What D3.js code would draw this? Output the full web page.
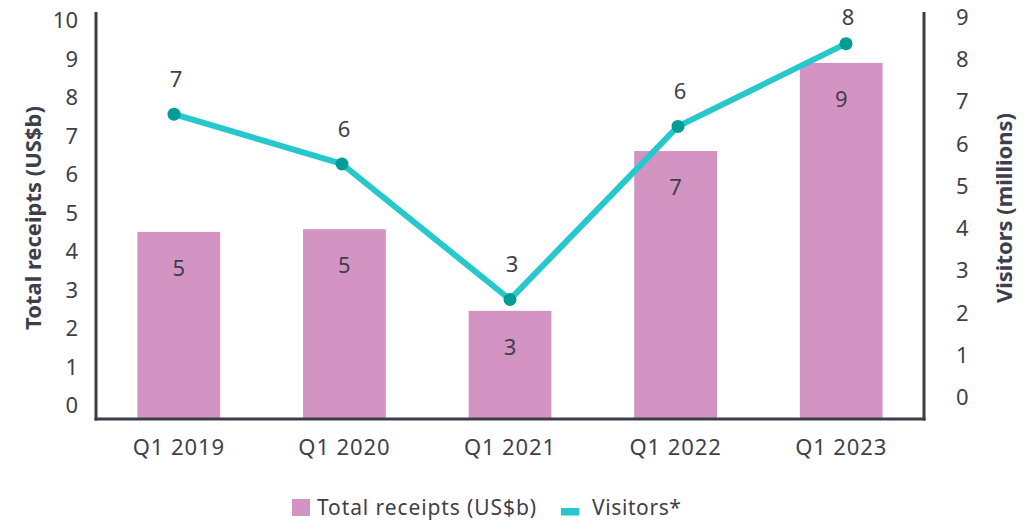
<!DOCTYPE html>
<html><head><meta charset="utf-8">
<script src="https://cdn.jsdelivr.net/npm/d3@7"></script>
<style>
body{margin:0;background:#fff;}
text{font-family:"Noto Sans",sans-serif;fill:#3f3f4b;}
</style>
</head><body>
<svg id="c" width="1026" height="522"></svg>
<script>
// ---- data ----
const categories = ["Q1 2019", "Q1 2020", "Q1 2021", "Q1 2022", "Q1 2023"];
const receipts = [4.86, 4.93, 2.81, 6.96, 9.25];          // US$b (left axis)
const visitors = [7.22, 6.04, 2.83, 6.93, 8.89];          // millions (right axis, as plotted)
const visitorLabels = ["7", "6", "3", "6", "8"];          // data labels as printed
const leftTicks = [0, 1, 2, 3, 4, 5, 6, 7, 8, 9, 10];
const rightTicks = [0, 1, 2, 3, 4, 5, 6, 7, 8, 9];
const seriesNames = ["Total receipts (US$b)", "Visitors*"];
const axisTitles = ["Total receipts (US$b)", "Visitors (millions)"];

// ---- layout ----
const W = 1026, H = 522;
const plot = {left: 96, right: 924, top: 12, bottom: 419};
const BAR = "#d394c4", LINE = "#26c8cb", DOT = "#009c97", AXIS = "#3d3d48";

const svg = d3.select("#c");
svg.append("rect").attr("width", W).attr("height", H).attr("fill", "#fff");

const x = d3.scaleBand().domain(categories).range([plot.left, plot.right])
  .paddingInner(0.5).paddingOuter(0.25);
const xLine = d3.scalePoint().domain(categories).range([plot.left + 78, plot.right - 78]);
const yL = d3.scaleLinear().domain([0, 10]).range([plot.bottom, 34]);
const yR = d3.scaleLinear().domain([0, 9]).range([plot.bottom, 39]);

// bars
svg.append("g").selectAll("rect").data(categories).join("rect")
  .attr("x", d => x(d)).attr("width", x.bandwidth())
  .attr("y", (d, i) => yL(receipts[i]))
  .attr("height", (d, i) => yL(0) - yL(receipts[i]))
  .attr("fill", BAR);

// bar labels
svg.append("g").selectAll("text").data(categories).join("text")
  .attr("x", d => x(d) + x.bandwidth() / 2)
  .attr("y", (d, i) => yL(receipts[i]) + 36)
  .attr("dy", "0.35em").attr("text-anchor", "middle")
  .attr("font-size", 22)
  .text((d, i) => d3.format(".0f")(receipts[i]));

// line
const line = d3.line().x((d, i) => xLine(categories[i])).y(d => yR(d));
svg.append("path").datum(visitors).attr("d", line)
  .attr("fill", "none").attr("stroke", LINE).attr("stroke-width", 6)
  .attr("stroke-linejoin", "round");
svg.append("g").selectAll("circle").data(visitors).join("circle")
  .attr("cx", (d, i) => xLine(categories[i])).attr("cy", d => yR(d))
  .attr("r", 6.5).attr("fill", DOT);
svg.append("g").selectAll("text").data(visitors).join("text")
  .attr("x", (d, i) => xLine(categories[i]) + 2)
  .attr("y", d => Math.max(yR(d) - 35, 17))
  .attr("dy", "0.35em").attr("text-anchor", "middle")
  .attr("font-size", 22)
  .text((d, i) => visitorLabels[i]);

// axes (tick labels via d3 axes)
const gL = svg.append("g").attr("transform", `translate(${plot.left},0)`)
  .call(d3.axisLeft(yL).tickValues(leftTicks).tickSize(0).tickPadding(18).tickFormat(d3.format("d")));
gL.select(".domain").remove();
gL.selectAll("text").attr("font-size", 22).attr("font-family", "Noto Sans")
  .attr("fill", "#3f3f4b").attr("transform", "translate(0,-13.3)");

const gR = svg.append("g").attr("transform", `translate(${plot.right},0)`)
  .call(d3.axisRight(yR).tickValues(rightTicks).tickSize(0).tickPadding(32).tickFormat(d3.format("d")));
gR.select(".domain").remove();
gR.selectAll("text").attr("font-size", 22).attr("font-family", "Noto Sans")
  .attr("fill", "#3f3f4b").attr("transform", "translate(0,-21.5)");

const gX = svg.append("g").attr("transform", `translate(0,${plot.bottom})`)
  .call(d3.axisBottom(x).tickSize(0).tickPadding(20));
gX.select(".domain").remove();
gX.selectAll("text").attr("font-size", 22).attr("font-family", "Noto Sans")
  .attr("fill", "#3f3f4b").attr("letter-spacing", "0.9px");

// axis lines
const axisLines = svg.append("g").attr("stroke", AXIS).attr("stroke-width", 3).attr("fill", "none");
axisLines.append("line").attr("x1", plot.left).attr("x2", plot.left).attr("y1", plot.top).attr("y2", plot.bottom + 1.5);
axisLines.append("line").attr("x1", plot.right).attr("x2", plot.right).attr("y1", plot.top).attr("y2", plot.bottom + 1.5);
axisLines.append("line").attr("x1", plot.left - 1.5).attr("x2", plot.right + 1.5).attr("y1", plot.bottom).attr("y2", plot.bottom);

// axis titles
svg.append("text").attr("transform", `translate(33,218) rotate(-90)`)
  .attr("text-anchor", "middle").attr("dy", "0.35em")
  .attr("font-size", 22).attr("font-weight", "bold").text(axisTitles[0]);
svg.append("text").attr("transform", `translate(1004,208) rotate(-90)`)
  .attr("text-anchor", "middle").attr("dy", "0.35em")
  .attr("font-size", 22).attr("font-weight", "bold").text(axisTitles[1]);

// legend
const leg = svg.append("g");
leg.append("rect").attr("x", 292).attr("y", 499).attr("width", 18).attr("height", 17).attr("fill", BAR);
leg.append("text").attr("x", 317).attr("y", 508).attr("dy", "0.35em").attr("font-size", 21)
  .attr("letter-spacing", "0.9px").text(seriesNames[0]);
leg.append("rect").attr("x", 561).attr("y", 508).attr("width", 18).attr("height", 7.5).attr("fill", LINE);
leg.append("text").attr("x", 592).attr("y", 508).attr("dy", "0.35em").attr("font-size", 21)
  .attr("letter-spacing", "0.6px").text(seriesNames[1]);
</script>
</body></html>
